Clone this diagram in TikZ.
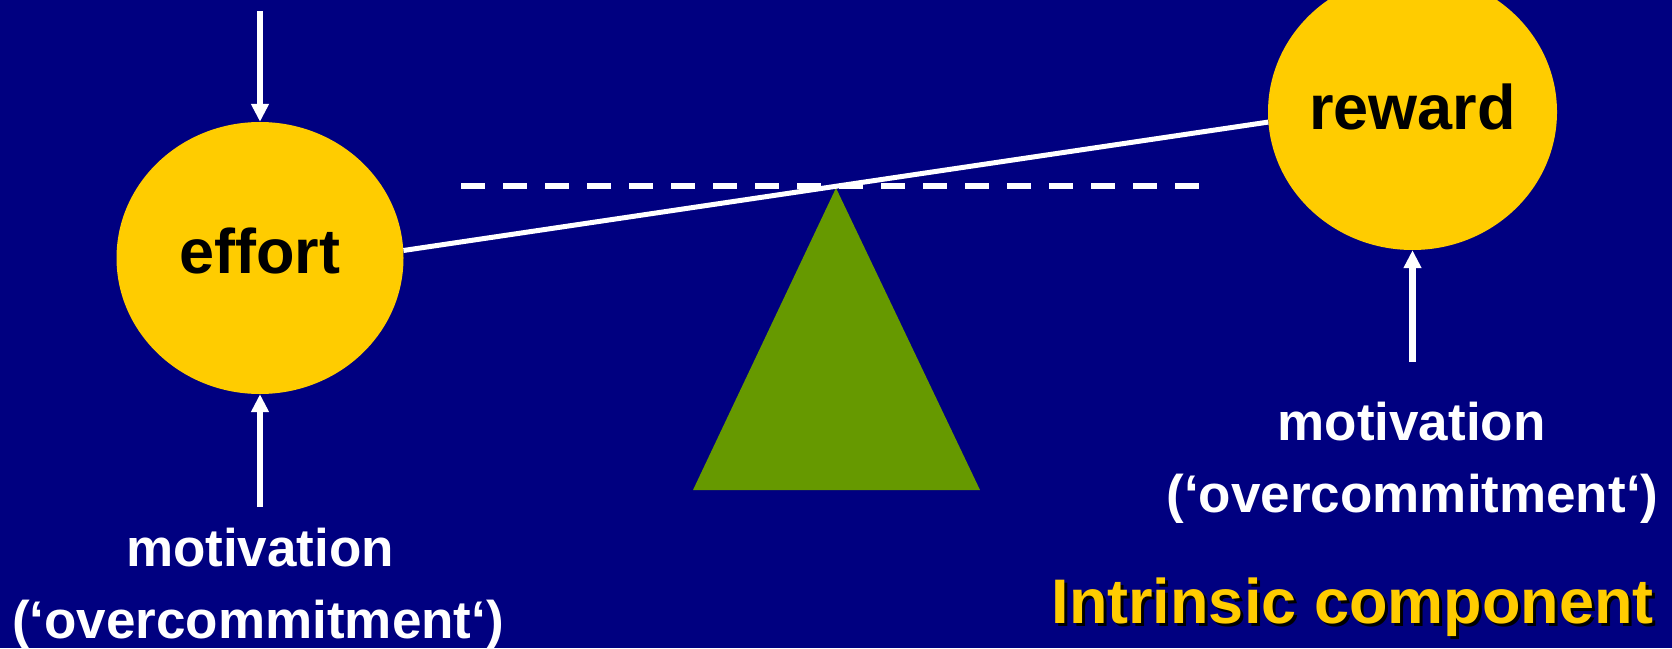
\documentclass[tikz,border=0pt]{standalone}
\usepackage{fontspec}
\setmainfont{Liberation Sans}
\usetikzlibrary{shapes.geometric,arrows.meta}
\definecolor{navy}{HTML}{000080}
\definecolor{gold}{HTML}{FFCC00}
\definecolor{leaf}{HTML}{669900}
\begin{document}
\begin{tikzpicture}[x=1pt,y=-1pt,
  blob/.style={ellipse,fill=gold,draw=none,inner sep=0pt},
  blobtext/.style={anchor=base,inner sep=0pt,font=\fontsize{63}{70}\selectfont\bfseries,text=black},
  mottext/.style={anchor=base,inner sep=0pt,font=\fontsize{53}{60}\selectfont\bfseries,text=white},
  arr/.style={draw=white,line width=6.5pt,-{Triangle[width=17pt,length=18pt]}},
  beam/.style={draw=white,line width=5pt},
  level/.style={draw=white,line width=6.5pt,dash pattern=on 24pt off 18pt}]
\fill[navy] (0,0) rectangle (1672,648);
\useasboundingbox (0,0) rectangle (1672,648);
% pivot
\fill[leaf] (836,188) -- (980,490) -- (693,490) -- cycle;
% circles
\node[blob,minimum width=287pt,minimum height=272pt] (effort) at (260,258) {};
\node[blob,minimum width=289pt,minimum height=276pt] (reward) at (1412.5,112) {};
\node[blobtext] (effortlbl) at (260,273) {effort};
\node[blobtext] (rewardlbl) at (1412.5,129) {reward};
% level and beam
\coordinate (lvA) at (461,186);
\coordinate (lvB) at (1199,186);
\draw[level] (lvA) -- (lvB);
\draw[beam] (effort.3) -- (reward.184);
% arrows
\coordinate (topin) at (260,11);
\coordinate (effin) at (260,507);
\coordinate (rewin) at (1412.5,362);
\draw[arr] (topin) -- (effort.north);
\draw[arr] (effin) -- (effort.south);
\draw[arr] (rewin) -- (reward.south);
% motivation texts
\node[mottext] (motL) at (260,566) {motivation};
\node[mottext] (ocL) at (258,638) {(‘overcommitment‘)};
\node[mottext] (motR) at (1411.5,440) {motivation};
\node[mottext] (ocR) at (1412.5,512) {(‘overcommitment‘)};
% title
\node[anchor=base,inner sep=0pt,font=\fontsize{63}{70}\selectfont\bfseries,text=black] (titleshadow) at (1355.5,626) {Intrinsic component};
\node[anchor=base,inner sep=0pt,font=\fontsize{63}{70}\selectfont\bfseries,text=gold] (title) at (1352.5,623) {Intrinsic component};
\end{tikzpicture}
\end{document}
